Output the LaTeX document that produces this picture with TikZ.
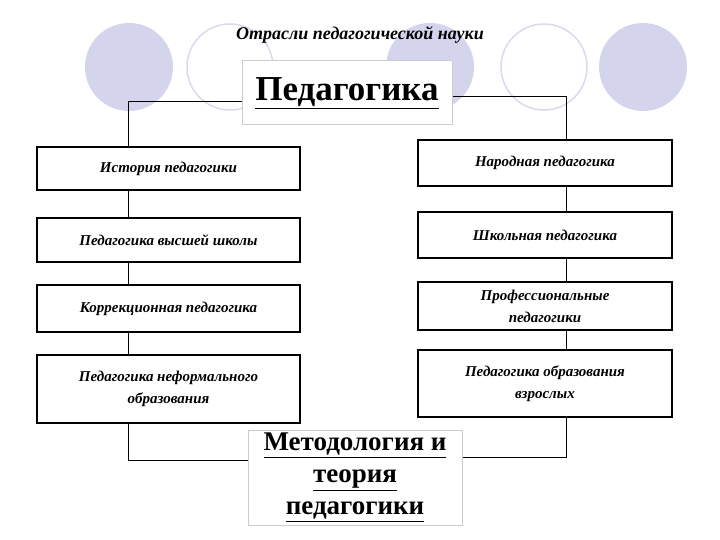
\documentclass[tikz,border=0pt]{standalone}
\usepackage{fontspec}
\setmainfont{Liberation Serif}
\definecolor{lav}{RGB}{212,212,236}
\definecolor{lavline}{RGB}{218,218,238}
\begin{document}
\begin{tikzpicture}[x=1pt,y=-1pt,
  box/.style={draw,line width=1.6pt,minimum width=#1,inner sep=2pt,align=center,font=\fontsize{15}{22}\selectfont\bfseries\itshape},
  box/.default=263pt,
  bigbox/.style={draw=gray!40,line width=1pt,fill=white,align=center,inner sep=1pt,font=\bfseries},
  conn/.style={line width=0.8pt}]
\useasboundingbox (0,0) rectangle (720,540);
\fill[lav] (129,67) circle (44);
\draw[lavline,line width=1.5pt] (230,67) circle (43);
\fill[lav] (430,67) circle (44);
\draw[lavline,line width=1.5pt] (544,67) circle (43);
\fill[lav] (643,67) circle (44);
\node[font=\fontsize{18}{20}\selectfont\bfseries\itshape] (title) at (360,35) {Отрасли педагогической науки};
% left boxes
\node[box,minimum height=43pt] (l1) at (168.5,168.5) {История педагогики};
\node[box,minimum height=44pt] (l2) at (168.5,240) {Педагогика высшей школы};
\node[box,minimum height=47pt] (l3) at (168.5,308.5) {Коррекционная педагогика};
\node[box,minimum height=68pt] (l4) at (168.5,389) {Педагогика неформального\\образования};
% right boxes
\node[box=254pt,minimum height=46pt] (r1) at (545,163) {Народная педагогика};
\node[box=254pt,minimum height=46pt] (r2) at (545,235) {Школьная педагогика};
\node[box=254pt,minimum height=48pt] (r3) at (545,306) {Профессиональные\\педагогики};
\node[box=254pt,minimum height=67pt] (r4) at (545,383.5) {Педагогика образования\\взрослых};
\node[bigbox,minimum width=210pt,minimum height=64pt,font=\fontsize{35}{38}\selectfont\bfseries] (top) at (347,93) {\underline{Педагогика}};
\node[bigbox,minimum width=214pt,minimum height=95pt,font=\fontsize{27}{32}\selectfont\bfseries] (bot) at (355,477.5) {\underline{Методология и}\\\underline{теория}\\\underline{педагогики}};
\coordinate (tl) at (128,101);
\coordinate (tr) at (566,96);
\coordinate (bl) at (128,460);
\coordinate (br) at (566,457);
\draw[conn] (top.west |- tl) -- (tl) -- (l1.north -| tl);
\draw[conn] (top.east |- tr) -- (tr) -- (r1.north -| tr);
\draw[conn] (l1.south -| tl) -- (l2.north -| tl);
\draw[conn] (l2.south -| tl) -- (l3.north -| tl);
\draw[conn] (l3.south -| tl) -- (l4.north -| tl);
\draw[conn] (r1.south -| tr) -- (r2.north -| tr);
\draw[conn] (r2.south -| tr) -- (r3.north -| tr);
\draw[conn] (r3.south -| tr) -- (r4.north -| tr);
\draw[conn] (l4.south -| bl) -- (bl) -- (bot.west |- bl);
\draw[conn] (r4.south -| br) -- (br) -- (bot.east |- br);
\end{tikzpicture}
\end{document}
